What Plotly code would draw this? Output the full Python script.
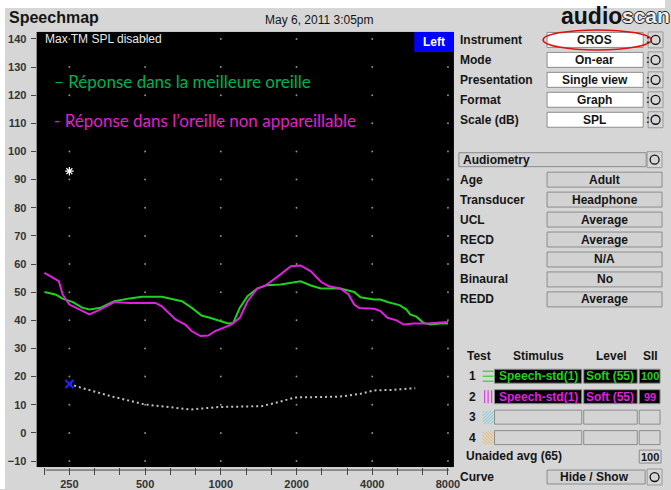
import math
import plotly.graph_objects as go

W, H = 671, 490
UI_FONT = "Liberation Sans"

# ---- Speechmap data (frequency in Hz, level in dB SPL) ----
better_freq = [199, 220, 235, 258, 281, 300, 333, 377, 434, 486, 583, 700, 765, 838,
               904, 988, 1070, 1120, 1190, 1277, 1395, 1525, 1730, 2075, 2280, 2500,
               2985, 3390, 3590, 4070, 4310, 4600, 5130, 5460, 5660, 5990, 6390, 6820,
               7470, 8000]
better_spl = [50.1, 49.2, 47.7, 46.5, 44.5, 43.9, 44.5, 46.8, 47.8, 48.4, 48.4, 46.8,
              44.5, 41.7, 40.9, 39.7, 38.9, 39.1, 44.5, 48.6, 51.3, 52.5, 52.7, 53.9,
              52.4, 51.3, 51.3, 50.1, 48.2, 47.4, 47.4, 46.5, 45.4, 43.9, 42.1, 41.3,
              39.1, 38.5, 38.9, 38.9]

poor_freq = [199, 227, 235, 250, 275, 300, 328, 377, 434, 550, 583, 660, 722, 765, 830,
             892, 950, 1037, 1100, 1190, 1277, 1395, 1505, 1692, 1900, 2075, 2280, 2500,
             2690, 2985, 3220, 3390, 3550, 4070, 4310, 4600, 5000, 5330, 5850, 6600, 8000]
poor_spl = [56.9, 53.9, 49.2, 45.6, 43.8, 42.1, 43.6, 46.5, 46.2, 46.2, 45.0, 40.3, 38.5,
            36.2, 34.4, 34.6, 36.2, 37.7, 38.5, 40.9, 46.8, 51.3, 52.4, 55.7, 59.2, 59.5,
            57.4, 53.7, 52.1, 51.3, 49.2, 45.6, 44.4, 44.1, 43.3, 40.9, 40.0, 38.5, 38.9,
            38.9, 39.4]

thresh_freq = [250, 275, 370, 500, 620, 755, 980, 1450, 1690, 1970, 2985, 3590, 4070,
               4810, 5930]
thresh_db = [17.4, 16.2, 12.9, 10.1, 9.2, 8.3, 9.2, 9.5, 10.9, 12.6, 12.9, 13.9, 15.1,
             15.3, 15.9]

threshold_mark = (250, 17.4)
ucl_mark = (250, 93)

octave_freqs = [250, 500, 1000, 2000, 4000, 8000]
octave_labels = ["250", "500", "1000", "2000", "4000", "8000"]
db_levels = list(range(-10, 141, 10))

legend_better = "– Réponse dans la meilleure oreille"
legend_poor = "- Réponse dans l’oreille non appareillable"

top_labels = ["Instrument", "Mode", "Presentation", "Format", "Scale (dB)"]
top_values = ["CROS", "On-ear", "Single view", "Graph", "SPL"]
audio_labels = ["Age", "Transducer", "UCL", "RECD", "BCT", "Binaural", "REDD"]
audio_values = ["Adult", "Headphone", "Average", "Average", "N/A", "No", "Average"]
test_rows = [
    ("1", "Speech-std(1)", "Soft (55)", "100"),
    ("2", "Speech-std(1)", "Soft (55)", "99"),
    ("3", "", "", ""),
    ("4", "", "", ""),
]

GREEN_LINE = "#1fd21f"
MAGENTA_LINE = "#e020e0"


def px(x):
    return x / W


def py(y):
    return 1 - y / H


shapes = []
annotations = []


def box(x0, y0, x1, y1, fill, line="#8c8c8c", width=1, layer="above"):
    shapes.append(dict(type="rect", xref="paper", yref="paper",
                       x0=px(x0), x1=px(x1), y0=py(y1), y1=py(y0),
                       fillcolor=fill, line=dict(color=line, width=width), layer=layer))


def seg(x0, y0, x1, y1, color, width=1):
    shapes.append(dict(type="line", xref="paper", yref="paper",
                       x0=px(x0), x1=px(x1), y0=py(y0), y1=py(y1),
                       line=dict(color=color, width=width)))


def hatch(x0, y0, x1, y1, color, slope, step=3.2):
    """Diagonal hatch lines y = slope*x + b clipped to a rectangle (screen coords)."""
    corners = [slope * x0 - y0, slope * x1 - y0, slope * x0 - y1, slope * x1 - y1]
    b_lo = -max(corners)
    b_hi = -min(corners)
    b = b_lo + step / 2
    while b < b_hi:
        pts = []
        for xx in (x0, x1):
            yy = slope * xx + b
            if y0 - 1e-6 <= yy <= y1 + 1e-6:
                pts.append((xx, yy))
        for yy in (y0, y1):
            xx = (yy - b) / slope
            if x0 - 1e-6 <= xx <= x1 + 1e-6:
                pts.append((xx, yy))
        if len(pts) >= 2:
            pts.sort()
            seg(pts[0][0], pts[0][1], pts[-1][0], pts[-1][1], color, 1)
        b += step


def text(x, y, s, size=12, color="#151515", anchor="left", bold=False,
         family=UI_FONT, shadow=None):
    font = dict(family=family, size=size, color=color)
    if shadow:
        font["shadow"] = shadow
    annotations.append(dict(xref="paper", yref="paper", x=px(x), y=py(y),
                            text=f"<b>{s}</b>" if bold else s, showarrow=False,
                            xanchor=anchor, yanchor="middle", font=font,
                            borderpad=0))


def button(x0, yc):
    box(x0, yc - 8, x0 + 15, yc + 8, "#d6d6d6", line="#9a9a9a")
    shapes.append(dict(type="circle", xref="paper", yref="paper",
                       x0=px(x0 + 3), x1=px(x0 + 12), y0=py(yc + 4.5), y1=py(yc - 4.5),
                       line=dict(color="#111111", width=1.3)))


# ---- frame ----
box(0, 0, W, 8, "white", line="white", width=0, layer="below")
box(0, 0, 5, H, "white", line="white", width=0, layer="below")

text(8, 18, "Speechmap", size=16, bold=True)
text(322, 20, "May 6, 2011 3:05pm", size=12, anchor="center")
text(629, 16, "audio", size=23, bold=True, anchor="right", color="#111111")
text(627, 16, "scan", size=21, bold=True, anchor="left", color="#eeeeee",
     shadow="1px 0 0 #222, -1px 0 0 #222, 0 1px 0 #222, 0 -1px 0 #222")

# ---- plot overlays ----
box(418, 32, 458, 52, "#0000ff", line="#0000ff", width=0)
text(438, 42, "Left", size=12, color="white", anchor="center", bold=True)
text(44, 39, "Max TM SPL disabled", size=12, color="#e8e8e8")
text(53, 82, legend_better, size=17, color="#00b050", family="Lato")
text(53, 121, legend_poor, size=17, color="#e020c8", family="Lato")
seg(46, 471, 453, 471, "#444444", 1)

# ---- right panel: instrument settings ----
for i, (lab, val) in enumerate(zip(top_labels, top_values)):
    yc = 40 + 20 * i
    text(463, yc, lab, size=12, bold=True)
    box(552, yc - 7.5, 649, yc + 7.5, "white", line="#8c8c8c")
    text(600, yc, val, size=12, bold=True, anchor="center")
    text(650.5, yc - 1, ":", size=11, bold=True)
    button(654, yc)

shapes.append(dict(type="circle", xref="paper", yref="paper",
                   x0=px(548), x1=px(657), y0=py(50), y1=py(30),
                   line=dict(color="#e01010", width=1.5)))

# ---- right panel: audiometry ----
box(463, 153, 652, 167, "#d2d2d2", line="#8c8c8c")
text(466, 160, "Audiometry", size=12, bold=True)
button(653, 160)
for i, (lab, val) in enumerate(zip(audio_labels, audio_values)):
    yc = 180 + 20 * i
    text(463, yc, lab, size=12, bold=True)
    box(552, yc - 7.5, 668, yc + 7.5, "#d2d2d2", line="#8c8c8c")
    text(610, yc, val, size=12, bold=True, anchor="center")

# ---- right panel: test table ----
text(483, 357, "Test", size=12, bold=True, anchor="center")
text(543, 357, "Stimulus", size=12, bold=True, anchor="center")
text(617, 357, "Level", size=12, bold=True, anchor="center")
text(656, 357, "SII", size=12, bold=True, anchor="center")

row_colors = [GREEN_LINE, MAGENTA_LINE, None, None]
for i, (num, stim, level, sii) in enumerate(test_rows):
    yc = 377 + 20.5 * i
    text(477, yc, num, size=12, bold=True, anchor="center")
    col = row_colors[i]
    fill = "black" if col else "#d4d4d4"
    box(499, yc - 7, 587, yc + 7, fill, line="#8c8c8c")
    box(589, yc - 7, 643, yc + 7, fill, line="#8c8c8c")
    box(645, yc - 7, 666, yc + 7, fill, line="#8c8c8c")
    if col:
        text(543, yc, stim, size=12, bold=True, anchor="center", color=col)
        text(616, yc, level, size=12, bold=True, anchor="center", color=col)
        text(655.5, yc, sii, size=11, bold=True, anchor="center", color=col)

# row icons
for dy in (-5, 0, 5):
    seg(487, 377 + dy, 498, 377 + dy, "#3ccf3c", 1.3)
for dx in (489, 492.5, 496):
    seg(dx, 391, dx, 404, "#e040e0", 1.3)
hatch(487, 412, 498, 425, "#6fd3dc", -1)
hatch(487, 432.5, 498, 445.5, "#f0b860", 1)

text(469, 457, "Unaided avg (65)", size=12, bold=True)
box(645, 451, 667, 464, "#d8d8d8", line="#8c8c8c")
text(656, 457.5, "100", size=11, bold=True, anchor="center")

text(463, 478, "Curve", size=12, bold=True)
box(552, 471, 651, 485, "#d2d2d2", line="#8c8c8c")
text(600, 478, "Hide / Show", size=12, bold=True, anchor="center")
button(653, 478)

# ---- traces ----
dot_x = [f for f in octave_freqs for _ in db_levels]
dot_y = [d for _ in octave_freqs for d in db_levels]

fig = go.Figure()
fig.add_trace(go.Scatter(x=dot_x, y=dot_y, mode="markers",
                         marker=dict(size=2, color="#8a8a8a"), hoverinfo="skip"))
fig.add_trace(go.Scatter(x=thresh_freq, y=thresh_db, mode="lines",
                         line=dict(color="#c0c0c0", width=2, dash="2px,3px")))
fig.add_trace(go.Scatter(x=better_freq, y=better_spl, mode="lines",
                         line=dict(color=GREEN_LINE, width=2)))
fig.add_trace(go.Scatter(x=poor_freq, y=poor_spl, mode="lines",
                         line=dict(color=MAGENTA_LINE, width=2)))
fig.add_trace(go.Scatter(x=[threshold_mark[0]], y=[threshold_mark[1]], mode="markers",
                         marker=dict(symbol="x-thin-open", size=8, color="#2222ff",
                                     line=dict(color="#2222ff", width=2.2))))
fig.add_trace(go.Scatter(x=[ucl_mark[0]], y=[ucl_mark[1]], mode="markers",
                         marker=dict(symbol="asterisk-open", size=7, color="white",
                                     line=dict(color="white", width=1.2))))

third_octaves = [250 * 2 ** (k / 3) for k in range(-1, 16)]
third_text = [octave_labels[octave_freqs.index(round(f))] if round(f) in octave_freqs else ""
              for f in third_octaves]

fig.update_layout(
    width=W, height=H,
    margin=dict(l=0, r=0, t=0, b=0),
    paper_bgcolor="#d6d6d6",
    plot_bgcolor="black",
    showlegend=False,
    shapes=shapes,
    annotations=annotations,
    xaxis=dict(type="log", domain=[px(37), px(458)],
               range=[math.log10(185.3), math.log10(8447)],
               tickvals=third_octaves, ticktext=third_text,
               ticks="outside", ticklen=7, tickcolor="#444444", tickwidth=1,
               showgrid=False, zeroline=False, showline=False,
               tickfont=dict(family=UI_FONT, size=11, color="#333333", weight="bold"),
               ticklabelstandoff=0),
    yaxis=dict(domain=[py(468), py(32)], range=[-12.13, 142.48],
               tickvals=db_levels, ticks="outside", ticklen=5, tickcolor="#444444",
               showgrid=False, zeroline=False, showline=False,
               tickfont=dict(family=UI_FONT, size=11, color="#333333", weight="bold"),
               ticklabelstandoff=2),
)

fig.write_html("out.html")
